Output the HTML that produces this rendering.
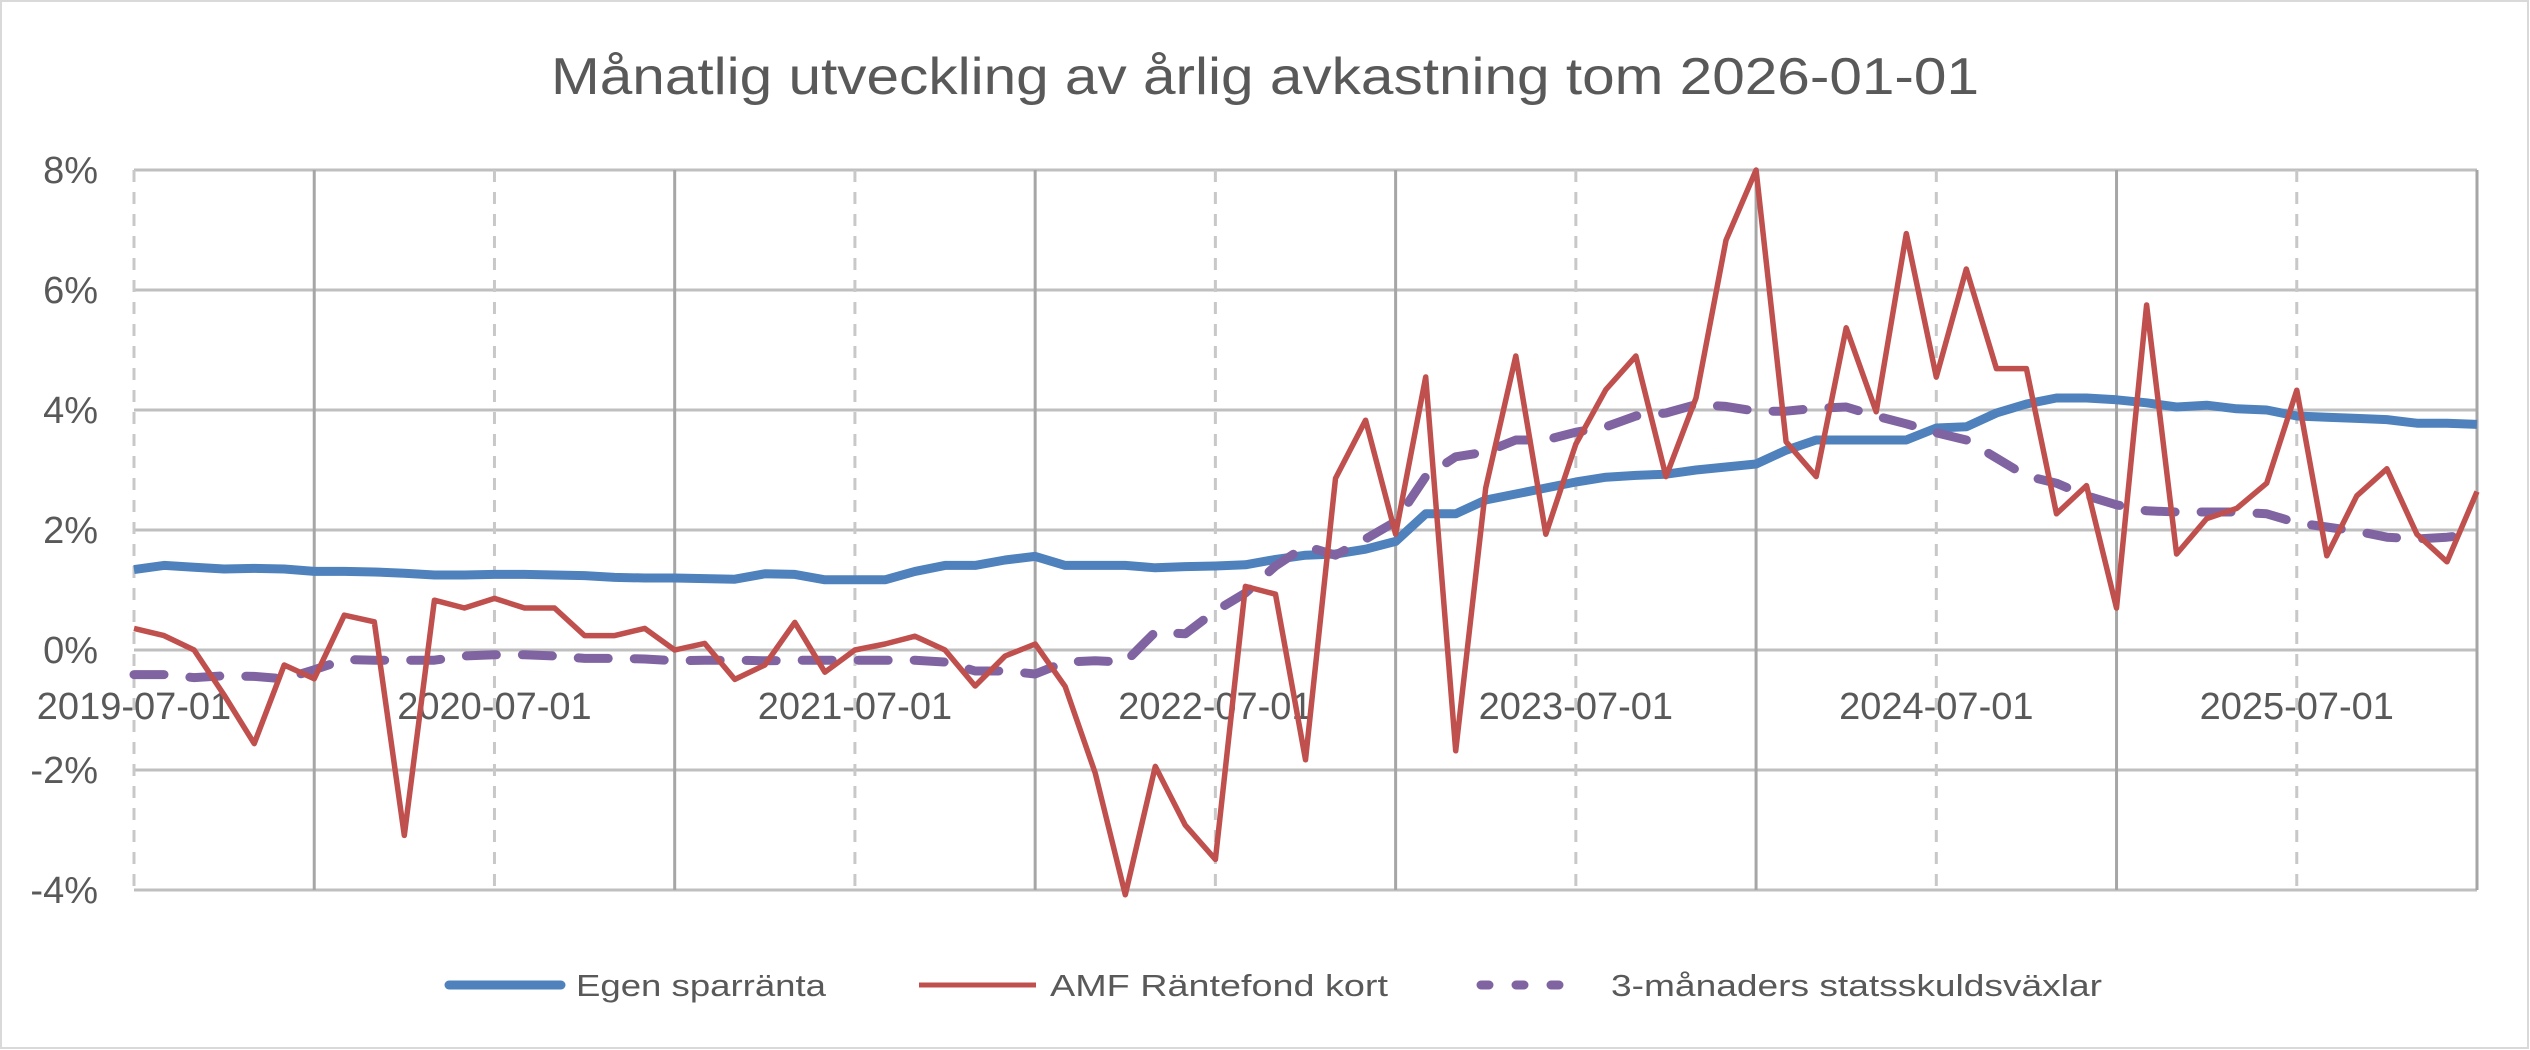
<!DOCTYPE html>
<html><head><meta charset="utf-8"><style>
html,body{margin:0;padding:0;background:#fff;}
svg{display:block;}
text{font-family:"Liberation Sans",sans-serif;fill:#595959;}
</style></head><body>
<svg id="c" width="2530" height="1050" viewBox="0 0 2530 1050" xmlns="http://www.w3.org/2000/svg">
<rect x="1" y="1" width="2527" height="1047" fill="#fff" stroke="#d9d9d9" stroke-width="2"/>
<text x="1265" y="94" font-size="52" text-anchor="middle" textLength="1428" lengthAdjust="spacingAndGlyphs">Månatlig utveckling av årlig avkastning tom 2026-01-01</text>
<g id="grid"></g>
<g id="lbl"></g>
<g id="series"></g>
<g>
<line x1="449" y1="985" x2="561" y2="985" stroke="#4f81bd" stroke-width="9" stroke-linecap="round"/>
<text x="576" y="996" font-size="31" textLength="250" lengthAdjust="spacingAndGlyphs">Egen sparränta</text>
<line x1="919" y1="985" x2="1036" y2="985" stroke="#c0504d" stroke-width="5"/>
<text x="1050" y="996" font-size="31" textLength="338" lengthAdjust="spacingAndGlyphs">AMF Räntefond kort</text>
<line x1="1481" y1="985" x2="1583" y2="985" stroke="#8064a2" stroke-width="9" stroke-linecap="round" stroke-dasharray="8 27"/>
<text x="1611" y="996" font-size="31" textLength="491" lengthAdjust="spacingAndGlyphs">3-månaders statsskuldsväxlar</text>
</g>
</svg>
<script>
var L=134,R=2477,Z=650,P=60,N=78,dx=(R-L)/N;
function X(i){return L+i*dx;}function Y(v){return Z-v*P;}
var ns="http://www.w3.org/2000/svg";
function el(t,a,p){var e=document.createElementNS(ns,t);for(var k in a)e.setAttribute(k,a[k]);p.appendChild(e);return e;}
var g=document.getElementById('grid'),lb=document.getElementById('lbl'),s=document.getElementById('series');
for(var v=-4;v<=8;v+=2){el('line',{x1:L,x2:R,y1:Y(v),y2:Y(v),stroke:'#bfbfbf','stroke-width':3},g);
var t=el('text',{x:98,y:Y(v)+13,'text-anchor':'end','font-size':38},lb);t.textContent=v+'%';}
for(var i=0;i<=N;i+=6){var jan=(i%12==6)||i==N;
el('line',{x1:X(i),x2:X(i),y1:Y(8),y2:Y(-4),stroke:jan?'#a6a6a6':'#c8c8c8','stroke-width':3,'stroke-dasharray':jan?'none':'12 10'},g);
if(!jan){var t=el('text',{x:X(i),y:719,'text-anchor':'middle','font-size':38},lb);t.textContent=(2019+i/12+0.5|0)+'-07-01';}}
var blue=[1.34,1.41,1.38,1.35,1.36,1.35,1.31,1.31,1.3,1.28,1.25,1.25,1.26,1.26,1.25,1.24,1.21,1.2,1.2,1.19,1.18,1.27,1.26,1.17,1.17,1.17,1.31,1.41,1.41,1.5,1.56,1.41,1.41,1.41,1.37,1.39,1.4,1.42,1.51,1.58,1.6,1.68,1.81,2.27,2.27,2.5,2.6,2.7,2.8,2.88,2.91,2.93,3.0,3.05,3.1,3.33,3.5,3.5,3.5,3.5,3.7,3.72,3.95,4.1,4.2,4.2,4.17,4.12,4.05,4.08,4.02,4.0,3.9,3.88,3.86,3.84,3.78,3.78,3.76];
var red=[0.36,0.24,0,-0.75,-1.56,-0.25,-0.48,0.58,0.47,-3.09,0.83,0.7,0.86,0.7,0.7,0.24,0.24,0.36,0,0.11,-0.49,-0.25,0.46,-0.37,0,0.1,0.23,0,-0.6,-0.1,0.1,-0.61,-2.05,-4.08,-1.94,-2.92,-3.49,1.06,0.93,-1.83,2.86,3.83,1.93,4.55,-1.68,2.7,4.9,1.93,3.43,4.34,4.9,2.89,4.2,6.83,8.0,3.47,2.89,5.37,3.97,6.94,4.55,6.35,4.69,4.69,2.27,2.74,0.7,5.75,1.6,2.19,2.36,2.78,4.33,1.57,2.57,3.02,1.93,1.47,2.64];
var pur=[-0.41,-0.41,-0.46,-0.43,-0.44,-0.48,-0.33,-0.16,-0.17,-0.17,-0.17,-0.1,-0.08,-0.08,-0.1,-0.14,-0.14,-0.15,-0.18,-0.17,-0.17,-0.18,-0.17,-0.17,-0.17,-0.17,-0.17,-0.2,-0.35,-0.35,-0.4,-0.2,-0.18,-0.2,0.3,0.27,0.65,0.95,1.4,1.73,1.58,1.85,2.14,2.89,3.22,3.3,3.5,3.5,3.63,3.72,3.9,3.95,4.09,4.06,3.98,3.98,4.03,4.05,3.9,3.77,3.62,3.5,3.2,2.9,2.78,2.57,2.42,2.32,2.3,2.3,2.3,2.27,2.12,2.05,1.98,1.88,1.85,1.88,1.93];
function pts(a){return a.map(function(v,i){return X(i).toFixed(1)+','+Y(v).toFixed(1);}).join(' ');}
el('polyline',{points:pts(blue),fill:'none',stroke:'#4f81bd','stroke-width':9,'stroke-linejoin':'round'},s);
el('polyline',{points:pts(pur),fill:'none',stroke:'#8064a2','stroke-width':9,'stroke-linecap':'round','stroke-linejoin':'round','stroke-dasharray':'30 26'},s);
el('polyline',{points:pts(red),fill:'none',stroke:'#c0504d','stroke-width':5.5,'stroke-linejoin':'round'},s);
</script>
</body></html>
